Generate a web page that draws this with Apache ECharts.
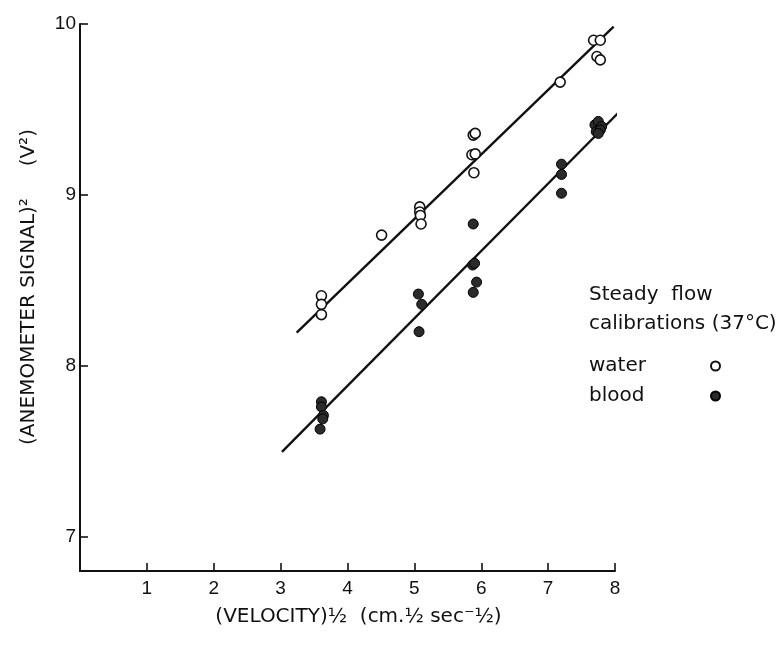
<!DOCTYPE html>
<html>
<head>
<meta charset="utf-8">
<title>Steady flow calibrations</title>
<script src="https://cdn.jsdelivr.net/npm/echarts@6/dist/echarts.min.js"></script>
<style>
  html, body { margin: 0; padding: 0; background: #fff; }
  #chart { width: 782px; height: 648px; }
</style>
</head>
<body>
<div id="chart"></div>
<script>
// Steady-flow calibrations at 37 °C: anemometer signal squared vs sqrt(velocity)

// Tick values
const xTicks = [1, 2, 3, 4, 5, 6, 7, 8];
const yTicks = [7, 8, 9, 10];

// Water calibration points: sqrt(velocity), signal^2
const waterX = [3.61, 3.61, 3.61, 4.51, 5.08, 5.08, 5.09, 5.10, 5.86, 5.91, 5.88, 5.91, 5.89, 7.18, 7.68, 7.78, 7.73, 7.78];
const waterY = [8.41, 8.36, 8.30, 8.765, 8.93, 8.90, 8.88, 8.83, 9.235, 9.24, 9.35, 9.36, 9.13, 9.66, 9.905, 9.905, 9.81, 9.79];

// Blood calibration points
const bloodX = [3.61, 3.61, 3.64, 3.63, 3.59, 5.06, 5.11, 5.07, 5.88, 5.87, 5.90, 5.93, 5.88, 7.20, 7.20, 7.20, 7.70, 7.75, 7.80, 7.72, 7.78, 7.75];
const bloodY = [7.79, 7.76, 7.71, 7.69, 7.63, 8.42, 8.36, 8.20, 8.83, 8.59, 8.60, 8.49, 8.43, 9.18, 9.12, 9.01, 9.41, 9.43, 9.40, 9.37, 9.38, 9.36];

// Fitted calibration lines (end points)
const waterFitX = [3.24, 7.98];
const waterFitY = [8.195, 9.985];
const bloodFitX = [3.02, 8.15];
const bloodFitY = [7.497, 9.52];

const zip = (xs, ys) => xs.map((x, i) => [x, ys[i]]);

const INK = '#111';
const LETTER = "'DejaVu Sans', 'Liberation Sans', sans-serif";
const DIGIT = "'Liberation Sans Narrow', 'Liberation Sans', sans-serif";

const chart = echarts.init(document.getElementById('chart'), null, { renderer: 'canvas' });

chart.setOption({
  animation: false,
  backgroundColor: '#fff',
  grid: { left: 80, right: 167, top: 24, bottom: 77, containLabel: false },
  xAxis: {
    type: 'value',
    min: 0,
    max: 8,
    interval: 1,
    name: '(VELOCITY)½  (cm.½ sec⁻½)',
    nameLocation: 'middle',
    nameGap: 36,
    nameTextStyle: { color: INK, fontSize: 20, fontFamily: LETTER, padding: [0, 0, 0, 22] },
    axisLine: { lineStyle: { color: INK, width: 2 } },
    axisTick: { inside: true, length: 8, customValues: xTicks, lineStyle: { color: INK, width: 1.6 } },
    axisLabel: { customValues: xTicks, color: INK, fontSize: 19, fontFamily: DIGIT, margin: 8 },
    splitLine: { show: false }
  },
  yAxis: {
    type: 'value',
    min: 6.8,
    max: 10,
    axisLine: { show: true, lineStyle: { color: INK, width: 2 } },
    axisTick: { show: true, inside: true, length: 8, customValues: yTicks, lineStyle: { color: INK, width: 1.6 } },
    axisLabel: { customValues: yTicks, color: INK, fontSize: 19, fontFamily: DIGIT, margin: 4 },
    splitLine: { show: false }
  },
  legend: {
    orient: 'vertical',
    left: 584,
    top: 351,
    align: 'right',
    itemWidth: 9,
    itemHeight: 9,
    itemGap: 10,
    data: ['water', 'blood'],
    formatter: name => '{t|' + name + '}',
    textStyle: {
      color: INK,
      fontSize: 20,
      lineHeight: 20,
      fontFamily: LETTER,
      rich: { t: { width: 117, align: 'left', fontSize: 20, lineHeight: 20, fontFamily: LETTER, color: INK } }
    }
  },
  graphic: [
    {
      type: 'text',
      x: 29,
      y: 287,
      rotation: Math.PI / 2,
      style: {
        text: '(ANEMOMETER SIGNAL)²     (V²)',
        fill: INK,
        font: '20px ' + LETTER,
        align: 'center',
        verticalAlign: 'middle'
      }
    },
    {
      type: 'text',
      left: 589,
      top: 285,
      style: { text: 'Steady  flow', fill: INK, font: '20px ' + LETTER }
    },
    {
      type: 'text',
      left: 589,
      top: 314,
      style: { text: 'calibrations (37°C)', fill: INK, font: '20px ' + LETTER }
    }
  ],
  series: [
    {
      name: 'water fit',
      type: 'line',
      data: zip(waterFitX, waterFitY),
      showSymbol: false,
      clip: false,
      lineStyle: { color: INK, width: 2.4 },
      z: 2
    },
    {
      name: 'blood fit',
      type: 'line',
      data: zip(bloodFitX, bloodFitY),
      showSymbol: false,
      clip: false,
      lineStyle: { color: INK, width: 2.4 },
      z: 2
    },
    {
      name: 'water',
      type: 'scatter',
      data: zip(waterX, waterY),
      symbol: 'circle',
      symbolSize: 10,
      itemStyle: { color: '#fff', borderColor: INK, borderWidth: 1.6, opacity: 1 },
      z: 3
    },
    {
      name: 'blood',
      type: 'scatter',
      data: zip(bloodX, bloodY),
      symbol: 'circle',
      symbolSize: 10,
      itemStyle: { color: '#2b2b2b', borderColor: '#000', borderWidth: 1, opacity: 1 },
      z: 3
    }
  ]
});
</script>
</body>
</html>
